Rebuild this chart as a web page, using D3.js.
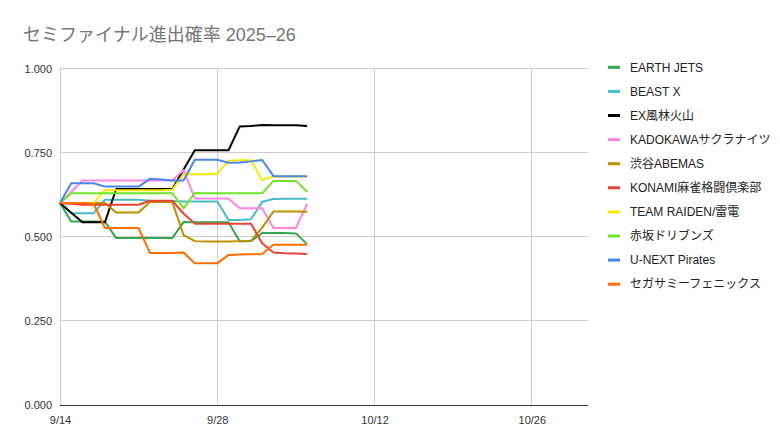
<!DOCTYPE html>
<html><head><meta charset="utf-8">
<script src="https://cdn.jsdelivr.net/npm/d3@7"></script>
<style>
body{margin:0;background:#fff;}
text{font-family:Arial,"Liberation Sans","Noto Sans CJK JP",sans-serif;}
</style></head>
<body><svg id="c" width="780" height="448"></svg>
<script>
const title = "セミファイナル進出確率 2025–26";
const dates = ["2025-09-14","2025-09-15","2025-09-16","2025-09-17","2025-09-18","2025-09-19","2025-09-20","2025-09-21","2025-09-22","2025-09-23","2025-09-24","2025-09-25","2025-09-26","2025-09-27","2025-09-28","2025-09-29","2025-09-30","2025-10-01","2025-10-02","2025-10-03","2025-10-04","2025-10-05","2025-10-06"];
const teams = ["EARTH JETS","BEAST X","EX風林火山","KADOKAWAサクラナイツ","渋谷ABEMAS","KONAMI麻雀格闘倶楽部","TEAM RAIDEN/雷電","赤坂ドリブンズ","U-NEXT Pirates","セガサミーフェニックス"];
const colors = ["#34a853","#46bdc6","#000000","#ff85e3","#bf9000","#ea4335","#ffe600","#6fe52b","#4a86e8","#ff6d01"];
const earthJets = [.600,.545,.545,.545,.545,.496,.496,.496,.496,.496,.496,.544,.543,.543,.543,.543,.486,.487,.511,.511,.511,.510,.478];
const beastX    = [.600,.570,.570,.570,.610,.610,.610,.610,.607,.606,.606,.605,.605,.605,.605,.550,.550,.552,.604,.612,.613,.613,.613];
const exFurin   = [.600,.571,.543,.543,.543,.642,.642,.642,.642,.642,.642,.700,.757,.757,.757,.757,.828,.829,.832,.831,.831,.831,.829];
const kadokawa  = [.600,.633,.667,.667,.667,.667,.667,.667,.667,.667,.667,.698,.614,.614,.614,.614,.585,.585,.585,.526,.526,.526,.598];
const shibuya   = [.600,.600,.600,.600,.600,.572,.572,.572,.603,.603,.603,.505,.487,.486,.486,.486,.487,.488,.527,.575,.575,.575,.574];
const konami    = [.600,.598,.595,.595,.595,.595,.595,.595,.607,.607,.607,.569,.539,.539,.539,.539,.539,.539,.481,.453,.451,.450,.449];
const raiden    = [.600,.600,.600,.600,.639,.638,.638,.638,.638,.638,.640,.686,.686,.686,.687,.726,.727,.727,.669,.679,.679,.679,.679];
const akasaka   = [.600,.629,.629,.629,.629,.629,.629,.629,.629,.629,.629,.585,.630,.629,.629,.629,.629,.629,.629,.666,.666,.666,.634];
const unext     = [.600,.659,.659,.659,.649,.649,.649,.649,.672,.670,.667,.667,.729,.729,.729,.720,.721,.724,.728,.680,.680,.680,.680];
const sega      = [.600,.600,.600,.598,.526,.526,.526,.526,.452,.452,.452,.453,.421,.421,.421,.446,.447,.448,.449,.476,.476,.476,.476];
const seriesValues = [earthJets,beastX,exFurin,kadokawa,shibuya,konami,raiden,akasaka,unext,sega];
const yTicks = [0,0.25,0.5,0.75,1];
const xTicks = ["2025-09-14","2025-09-28","2025-10-12","2025-10-26"];
const xDomain = ["2025-09-14","2025-10-31"];

const parse = d3.timeParse("%Y-%m-%d");
const svg = d3.select("#c");
const x = d3.scaleTime().domain(xDomain.map(parse)).range([60,588]);
const y = d3.scaleLinear().domain([0,1]).range([405,68.5]);

svg.append("text").attr("x",23).attr("y",41).attr("font-size",18).attr("fill","#757575").text(title);

svg.append("g").selectAll("line").data(yTicks.filter(t=>t>0)).join("line")
  .attr("x1",60).attr("x2",588).attr("y1",d=>y(d)).attr("y2",d=>y(d))
  .attr("stroke","#cccccc").attr("stroke-width",1).attr("shape-rendering","crispEdges");
svg.append("g").selectAll("line").data(xTicks.map(parse)).join("line")
  .attr("x1",d=>x(d)).attr("x2",d=>x(d)).attr("y1",y(1)).attr("y2",y(0))
  .attr("stroke","#cccccc").attr("stroke-width",1).attr("shape-rendering","crispEdges");

const yAxis = d3.axisLeft(y).tickValues(yTicks).tickFormat(d3.format(".3f")).tickSize(0).tickPadding(8);
const gy = svg.append("g").attr("transform","translate(60,0)").call(yAxis);
gy.select(".domain").remove();
gy.selectAll("text").attr("font-size",11).attr("fill","#333").attr("font-family",null);

const xAxis = d3.axisBottom(x).tickValues(xTicks.map(parse)).tickFormat(d3.timeFormat("%-m/%-d")).tickSize(0).tickPadding(11);
const gx = svg.append("g").attr("transform","translate(0,405)").call(xAxis);
gx.select(".domain").remove();
gx.selectAll("text").attr("font-size",11).attr("fill","#333").attr("font-family",null);

svg.append("line").attr("x1",60).attr("x2",588).attr("y1",y(0)).attr("y2",y(0))
  .attr("stroke","#333").attr("stroke-width",1).attr("shape-rendering","crispEdges");

const line = d3.line().x((d,i)=>x(parse(dates[i]))).y(d=>y(d));
svg.append("g").selectAll("path").data(seriesValues).join("path")
  .attr("d",d=>line(d)).attr("fill","none")
  .attr("stroke",(d,i)=>colors[i]).attr("stroke-width",2).attr("stroke-linejoin","round");

const lg = svg.append("g").selectAll("g").data(teams).join("g")
  .attr("transform",(d,i)=>`translate(608,${67.3+i*24.1})`);
lg.append("rect").attr("x",0).attr("y",-1.5).attr("width",12).attr("height",3).attr("fill",(d,i)=>colors[i]);
lg.append("text").attr("x",22).attr("y",0).attr("dy","0.35em").attr("font-size",12).attr("fill","#222").text(d=>d);
</script></body></html>
